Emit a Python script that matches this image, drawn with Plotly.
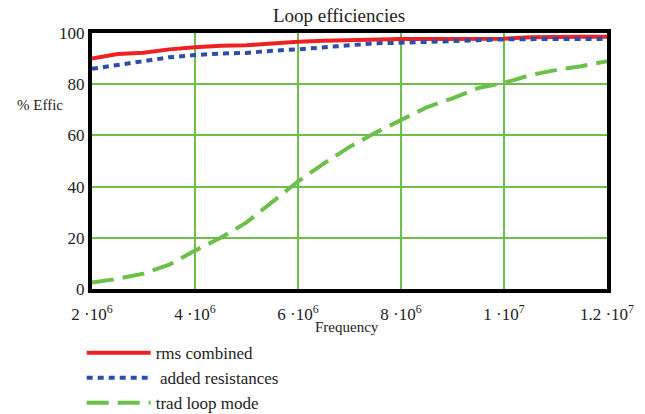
import plotly.graph_objects as go

freq = [2.0e6, 2.5e6, 3.0e6, 3.5e6, 4.0e6, 4.5e6, 5.0e6, 5.5e6, 6.0e6, 6.5e6, 7.0e6,
        7.5e6, 8.0e6, 8.5e6, 9.0e6, 9.5e6, 1.0e7, 1.05e7, 1.1e7, 1.15e7, 1.2e7]
rms_combined = [90.0, 91.8, 92.3, 93.6, 94.4, 95.0, 95.2, 96.0, 96.6, 97.0, 97.3,
                97.6, 97.7, 97.7, 97.7, 97.7, 97.8, 98.3, 98.5, 98.5, 98.5]
added_resistances = [86.0, 87.5, 88.8, 90.5, 91.4, 92.0, 92.2, 93.1, 93.6, 94.3, 95.3,
                     96.0, 96.2, 96.6, 96.9, 97.3, 97.5, 97.6, 97.7, 97.7, 97.7]
trad_loop_mode = [2.5, 4.0, 6.0, 9.5, 15.0, 20.0, 26.0, 34.0, 42.0, 49.0, 55.5,
                  61.0, 66.0, 71.0, 74.5, 78.5, 80.5, 83.5, 85.5, 87.0, 89.0]

x_ticks = [2e6, 4e6, 6e6, 8e6, 1e7, 1.2e7]
x_tick_labels = ["2 ·10<sup>6</sup>", "4 ·10<sup>6</sup>", "6 ·10<sup>6</sup>",
                 "8 ·10<sup>6</sup>", "1 ·10<sup>7</sup>", "1.2 ·10<sup>7</sup>"]
y_ticks = [0, 20, 40, 60, 80, 100]

serif = "Liberation Serif"
grid_green = "#6cc04a"

fig = go.Figure()
fig.add_trace(go.Scatter(x=freq, y=rms_combined, mode="lines", name="rms combined",
                         line=dict(color="#ee2222", width=4)))
fig.add_trace(go.Scatter(x=freq, y=added_resistances, mode="lines", name=" added resistances",
                         line=dict(color="#2b4fa8", width=4, dash="6px,5px")))
fig.add_trace(go.Scatter(x=freq, y=trad_loop_mode, mode="lines", name="trad loop mode",
                         line=dict(color="#6cc04a", width=4, dash="22px,9px")))

fig.update_layout(
    width=645, height=414,
    margin=dict(l=92, r=38, t=33, b=125, autoexpand=False),
    paper_bgcolor="white", plot_bgcolor="white",
    font=dict(family=serif, color="#222222", size=15),
    showlegend=True,
    legend=dict(x=-0.02, y=-0.18, xanchor="left", yanchor="top",
                font=dict(family=serif, size=17, color="#222222"),
                tracegroupgap=0, itemwidth=64, bgcolor="rgba(0,0,0,0)"),
    annotations=[
        dict(text="Loop efficiencies", xref="paper", yref="paper", x=0.48, y=1.0,
             xanchor="center", yanchor="bottom", yshift=5, showarrow=False,
             font=dict(family=serif, size=19, color="#222222")),
        dict(text="% Effic", xref="paper", yref="paper", x=-0.101, y=0.72,
             xanchor="center", yanchor="middle", showarrow=False,
             font=dict(family=serif, size=15, color="#222222")),
        dict(text="Frequency", xref="paper", yref="paper", x=0.496, y=-0.11,
             xanchor="center", yanchor="top", showarrow=False,
             font=dict(family=serif, size=15, color="#222222")),
    ],
)
fig.update_xaxes(range=[2e6, 1.2e7], tickvals=x_ticks, ticktext=x_tick_labels,
                 showgrid=True, gridcolor=grid_green, gridwidth=2,
                 showline=True, linecolor="black", linewidth=4, mirror=True,
                 ticks="", zeroline=False, tickfont=dict(family=serif, size=17),
                 ticklabelstandoff=7)
fig.update_yaxes(range=[0, 100], tickvals=y_ticks,
                 showgrid=True, gridcolor=grid_green, gridwidth=2,
                 showline=True, linecolor="black", linewidth=4, mirror=True,
                 ticks="", zeroline=False, tickfont=dict(family=serif, size=17))

fig.write_html("out.html")
